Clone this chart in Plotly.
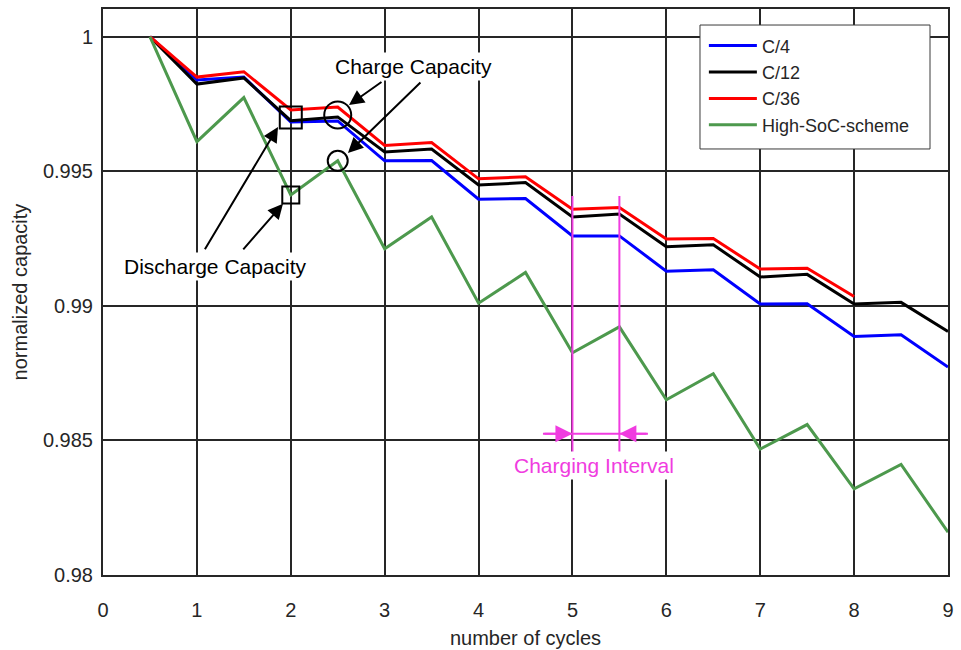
import plotly.graph_objects as go

# ---- data ----
cycles = [0.5, 1, 1.5, 2, 2.5, 3, 3.5, 4, 4.5, 5, 5.5, 6, 6.5, 7, 7.5, 8, 8.5, 9]
c4 = [1.0, 0.99839, 0.99850, 0.99683, 0.99687, 0.99539, 0.99540, 0.99396, 0.99399,
      0.99260, 0.99260, 0.99129, 0.99134, 0.99007, 0.99008, 0.98886, 0.98893, 0.98773]
c12 = [1.0, 0.99824, 0.99847, 0.99688, 0.99702, 0.99572, 0.99583, 0.99449, 0.99458,
       0.99330, 0.99341, 0.99220, 0.99227, 0.99107, 0.99117, 0.99007, 0.99013, 0.98905]
c36 = [1.0, 0.99850, 0.99870, 0.99728, 0.99739, 0.99596, 0.99607, 0.99472, 0.99480,
       0.99359, 0.99365, 0.99248, 0.99250, 0.99137, 0.99140, 0.99035]
high_soc = [1.0, 0.99610, 0.99774, 0.99412, 0.99539, 0.99212, 0.99330, 0.99010, 0.99124,
            0.98826, 0.98922, 0.98651, 0.98748, 0.98468, 0.98559, 0.98320, 0.98411, 0.98159]

series_names = ["C/4", "C/12", "C/36", "High-SoC-scheme"]
series_colors = ["#0000ff", "#000000", "#ff0000", "#4d994d"]

x_ticks = [0, 1, 2, 3, 4, 5, 6, 7, 8, 9]
y_ticks = [0.98, 0.985, 0.99, 0.995, 1.0]
y_ticklabels = ["0.98", "0.985", "0.99", "0.995", "1"]

FONT = "Liberation Sans, Arial, sans-serif"
TXT = "#262626"
GRID = "#262626"
MAGENTA = "#f03ce0"

fig = go.Figure()
all_y = [c4, c12, c36, high_soc]
for i, (name, col, ys) in enumerate(zip(series_names, series_colors, all_y)):
    fig.add_trace(go.Scatter(
        x=cycles[:len(ys)], y=ys, mode="lines", name=name,
        line=dict(color=col, width=3), legendgroup=f"g{i}",
    ))

# highlighted charge / discharge markers (derived from data)
i2 = cycles.index(2)
i25 = cycles.index(2.5)
big_sq_y = (c4[i2] + c12[i2] + c36[i2]) / 3
big_ci_y = (c4[i25] + c12[i25] + c36[i25]) / 3
fig.add_trace(go.Scatter(x=[cycles[i2]], y=[big_sq_y], mode="markers", showlegend=False,
                         marker=dict(symbol="square-open", size=22, color="black", line=dict(width=2))))
fig.add_trace(go.Scatter(x=[cycles[i2]], y=[high_soc[i2]], mode="markers", showlegend=False,
                         marker=dict(symbol="square-open", size=17, color="black", line=dict(width=2))))
fig.add_trace(go.Scatter(x=[cycles[i25]], y=[big_ci_y], mode="markers", showlegend=False,
                         marker=dict(symbol="circle-open", size=27, color="black", line=dict(width=2))))
fig.add_trace(go.Scatter(x=[cycles[i25]], y=[high_soc[i25]], mode="markers", showlegend=False,
                         marker=dict(symbol="circle-open", size=20, color="black", line=dict(width=2))))

annotations = []
# arrows: (head_x, head_y, tail_x, tail_y)
black_arrows = [
    (2.620, 0.997465, 2.982, 0.998356),
    (2.609, 0.995683, 3.397, 0.998356),
    (1.864, 0.996648, 1.076, 0.992045),
    (1.917, 0.993790, 1.480, 0.992045),
]
for hx, hy, tx, ty in black_arrows:
    annotations.append(dict(x=hx, y=hy, ax=tx, ay=ty, xref="x", yref="y", axref="x", ayref="y",
                            text="", showarrow=True, arrowhead=2, arrowsize=1.5, arrowwidth=2,
                            arrowcolor="black"))

interval_y = 0.98525
interval_ext = (4.686, 5.804)
annotations.append(dict(x=5, y=interval_y, ax=interval_ext[0], ay=interval_y, xref="x", yref="y",
                        axref="x", ayref="y", text="", showarrow=True, arrowhead=2, arrowsize=1.7,
                        arrowwidth=2, arrowcolor=MAGENTA))
annotations.append(dict(x=5.5, y=interval_y, ax=interval_ext[1], ay=interval_y, xref="x", yref="y",
                        axref="x", ayref="y", text="", showarrow=True, arrowhead=2, arrowsize=1.7,
                        arrowwidth=2, arrowcolor=MAGENTA))

texts = [
    ("Charge Capacity", 3.312, 0.99891, "black"),
    ("Discharge Capacity", 1.203, 0.99145, "black"),
    ("Charging Interval", 5.229, 0.98406, MAGENTA),
]
for t, x, y, c in texts:
    annotations.append(dict(x=x, y=y, xref="x", yref="y", text=t, showarrow=False,
                            font=dict(family=FONT, size=21, color=c), bgcolor="white", borderpad=2))

shapes = [
    dict(type="line", xref="x", yref="y", x0=5, x1=5, y0=0.99408, y1=0.9843,
         line=dict(color=MAGENTA, width=2), layer="above"),
    dict(type="line", xref="x", yref="y", x0=5.5, x1=5.5, y0=0.99408, y1=0.9843,
         line=dict(color=MAGENTA, width=2), layer="above"),
    dict(type="line", xref="x", yref="y", x0=interval_ext[0], x1=interval_ext[1],
         y0=interval_y, y1=interval_y, line=dict(color=MAGENTA, width=2), layer="above"),
    # legend box
    dict(type="rect", xref="paper", yref="paper", x0=0.7065, x1=0.9787, y0=0.7527, y1=0.9717,
         fillcolor="white", line=dict(color="#3a3a3a", width=1), layer="above"),
]

fig.update_layout(
    width=961, height=650,
    margin=dict(l=103, r=13, t=9, b=75),
    paper_bgcolor="white", plot_bgcolor="white",
    font=dict(family=FONT, size=20, color=TXT),
    annotations=annotations, shapes=shapes,
    legend=dict(x=0.7111, y=0.9675, xanchor="left", yanchor="top",
                bgcolor="rgba(0,0,0,0)", borderwidth=0,
                font=dict(family=FONT, size=18, color=TXT),
                tracegroupgap=0, itemwidth=48),
    xaxis=dict(range=[0, 9], tickvals=x_ticks, showgrid=True, gridcolor=GRID, gridwidth=2,
               showline=True, linecolor=GRID, linewidth=2, mirror=True, zeroline=False,
               ticks="", ticklabelstandoff=16, automargin=False,
               title=dict(text="number of cycles", font=dict(size=20), standoff=11)),
    yaxis=dict(range=[0.98, 1.00103], tickvals=y_ticks, ticktext=y_ticklabels, showgrid=True,
               gridcolor=GRID, gridwidth=2, showline=True, linecolor=GRID, linewidth=2,
               mirror=True, zeroline=False, ticks="", ticklabelstandoff=4, automargin=False,
               title=dict(text="normalized capacity", font=dict(size=20), standoff=10)),
)

fig.write_html("out.html")
